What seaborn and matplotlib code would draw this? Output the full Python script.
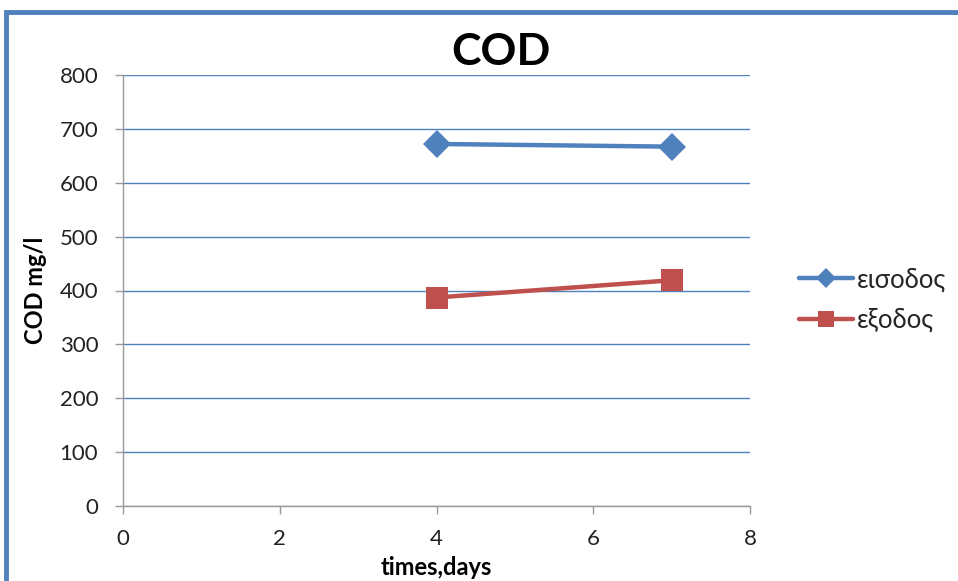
import matplotlib
matplotlib.use("Agg")
import matplotlib.pyplot as plt
import seaborn as sns
import pandas as pd
from matplotlib.patches import Rectangle

days = [4, 7]
eisodos = [672, 667]
exodos = [387, 419]
series_names = ["εισοδος", "εξοδος"]
colors = ["#4F81BD", "#C0504D"]
markers = ["D", "s"]
msizes = [14, 16]

sns.set_theme(style="white")
plt.rcParams['font.family'] = ['Lato', 'Noto Sans', 'DejaVu Sans']

fig = plt.figure(figsize=(9.58, 5.81), dpi=100)
ax = fig.add_axes([123/958, 1-506/581, (750-123)/958, (506-75)/581])

# outer frame (blue)
fig.patches.append(Rectangle((6/958, -0.2), 1.2, 1-12/581+0.2, transform=fig.transFigure,
                             fill=False, edgecolor="#4F81BD", linewidth=3.5, zorder=0))

for name, vals, c, m, ms in zip(series_names, [eisodos, exodos], colors, markers, msizes):
    df = pd.DataFrame({"day": days, "cod": vals})
    sns.lineplot(data=df, x="day", y="cod", ax=ax, color=c, marker=m, markersize=ms,
                 linewidth=3.2, markeredgewidth=0, label=name, legend=False, zorder=3)

ax.set_xlim(0, 8)
ax.set_ylim(0, 800)
ax.set_xticks([0, 2, 4, 6, 8])
ax.set_yticks(range(0, 801, 100))
ax.yaxis.grid(True, color="#4F81BD", linewidth=1.0)
ax.xaxis.grid(False)
for s in ["top", "right"]:
    ax.spines[s].set_visible(False)
for s in ["left", "bottom"]:
    ax.spines[s].set_color("#9A9A9A")
    ax.spines[s].set_linewidth(1.0)
ax.tick_params(axis="both", which="major", direction="out", length=5.8, width=1,
               color="#9A9A9A", labelsize=16, labelcolor="#222222",
               bottom=True, left=True)
ax.tick_params(axis="y", pad=12)
ax.tick_params(axis="x", pad=11)

fig.text(501/958, 1-65/581, "COD", fontsize=32, fontweight="bold",
         ha="center", va="baseline", color="black")
ax.set_xlabel("times,days", fontsize=17, fontweight="bold", color="black")
ax.set_ylabel("COD mg/l", fontsize=17, fontweight="bold", color="black")
ax.xaxis.set_label_coords(0.5, (506-556)/431)
ax.yaxis.set_label_coords((47-123)/627, 0.5)

handles, labels = ax.get_legend_handles_labels()
fig.legend(handles, labels, loc="center left", bbox_to_anchor=(776/958, 1-300/581),
           frameon=False, fontsize=18.5, handlelength=2.1, labelspacing=0.6,
           handletextpad=0.15, markerscale=0.7)

fig.savefig("out.png", dpi=100)
